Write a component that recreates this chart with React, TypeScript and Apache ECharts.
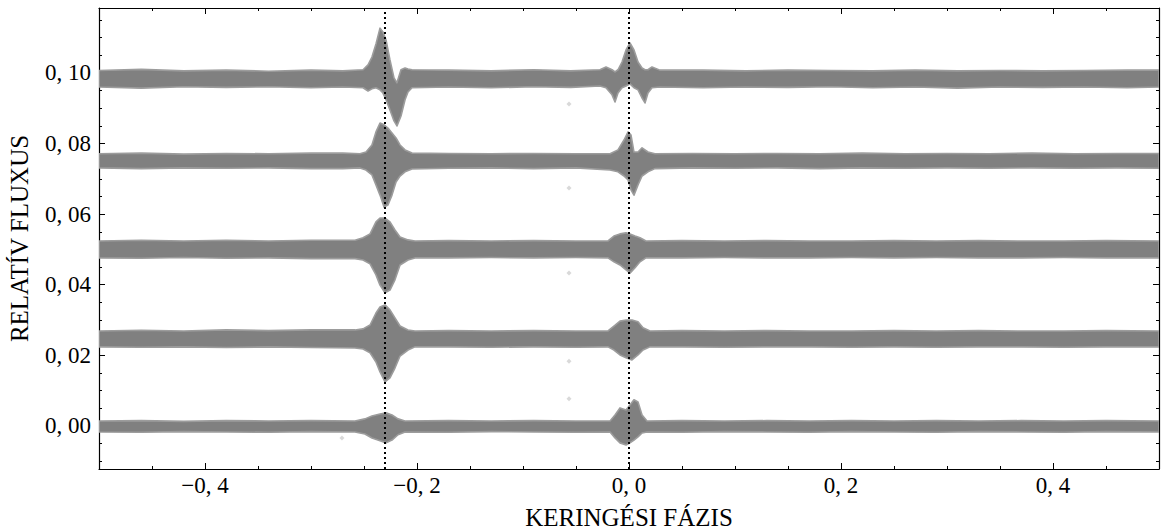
import React, { useEffect, useRef } from "react";
import * as echarts from "echarts";

// ---------- axis ticks ----------
const X_MAJOR = [-0.4, -0.2, 0, 0.2, 0.4];
const X_MINOR = [-0.45, -0.35, -0.3, -0.25, -0.15, -0.1, -0.05, 0.05, 0.1, 0.15, 0.25, 0.3, 0.35, 0.45];
const Y_MAJOR = [0, 0.02, 0.04, 0.06, 0.08, 0.1];
const Y_MINOR = [-0.01, -0.005, 0.005, 0.01, 0.015, 0.025, 0.03, 0.035, 0.045, 0.05, 0.055, 0.065, 0.07, 0.075, 0.085, 0.09, 0.095, 0.105, 0.11, 0.115];
const X_MIN = -0.5;
const X_MAX = 0.5;
const Y_MIN = -0.0122;
const Y_MAX = 0.1184;
const ECLIPSE_PHASES = [-0.23, 0];

// ---------- band 1 (top light curve) ----------
const B1_PHASE = [-0.5, -0.46, -0.42, -0.38, -0.34, -0.3, -0.27, -0.2509, -0.2462, -0.2425, -0.2387, -0.2349, -0.2321, -0.2292, -0.2255, -0.2217, -0.2189, -0.2151, -0.2113, -0.2085, -0.2047, -0.17, -0.13, -0.09, -0.055, -0.0274, -0.0217, -0.016, -0.0132, -0.0104, -0.0066, -0.0028, 0.0009, 0.0047, 0.0085, 0.0123, 0.0151, 0.0179, 0.0217, 0.0292, 0.07, 0.11, 0.15, 0.19, 0.23, 0.27, 0.31, 0.35, 0.39, 0.43, 0.47, 0.5];
const B1_UPPER = [0.1007, 0.101, 0.1006, 0.1008, 0.1005, 0.1008, 0.1006, 0.1009, 0.1023, 0.1045, 0.1082, 0.1127, 0.1116, 0.1093, 0.1037, 0.0986, 0.0972, 0.1009, 0.1014, 0.1011, 0.1009, 0.1008, 0.1006, 0.1009, 0.1006, 0.1009, 0.1017, 0.1009, 0.1003, 0.1009, 0.1031, 0.1065, 0.1085, 0.1065, 0.1031, 0.1014, 0.1009, 0.1009, 0.1017, 0.1008, 0.1008, 0.1006, 0.1008, 0.1007, 0.1006, 0.1008, 0.1006, 0.1007, 0.1006, 0.1007, 0.1008, 0.1008];
const B1_LOWER = [0.096, 0.0957, 0.0961, 0.0959, 0.0961, 0.0958, 0.096, 0.0958, 0.0949, 0.0955, 0.0958, 0.0952, 0.0943, 0.0924, 0.0895, 0.0864, 0.085, 0.0878, 0.0924, 0.0946, 0.0958, 0.096, 0.0958, 0.0961, 0.0959, 0.0963, 0.0958, 0.0938, 0.0918, 0.0943, 0.0958, 0.0963, 0.0969, 0.0958, 0.0952, 0.0929, 0.0915, 0.0943, 0.0958, 0.096, 0.0958, 0.096, 0.0959, 0.0961, 0.0958, 0.096, 0.0957, 0.096, 0.0959, 0.096, 0.0958, 0.096];

// ---------- band 2 ----------
const B2_PHASE = [-0.5, -0.46, -0.42, -0.38, -0.34, -0.3, -0.27, -0.2538, -0.2481, -0.2425, -0.2387, -0.2349, -0.2311, -0.2274, -0.2236, -0.2198, -0.216, -0.2113, -0.2047, -0.17, -0.13, -0.09, -0.05, -0.0179, -0.0104, -0.0047, -0.0009, 0.0019, 0.0047, 0.0085, 0.0123, 0.0179, 0.0245, 0.06, 0.1, 0.14, 0.18, 0.22, 0.26, 0.3, 0.34, 0.38, 0.42, 0.46, 0.5];
const B2_UPPER = [0.0771, 0.0773, 0.077, 0.0772, 0.0771, 0.0773, 0.0773, 0.0771, 0.0776, 0.0796, 0.0833, 0.0858, 0.0853, 0.0844, 0.083, 0.0816, 0.0796, 0.0782, 0.0773, 0.0772, 0.0771, 0.0772, 0.0771, 0.0771, 0.0782, 0.081, 0.0833, 0.0824, 0.0776, 0.0776, 0.0788, 0.0776, 0.0771, 0.0772, 0.0771, 0.0772, 0.0771, 0.0773, 0.0771, 0.0772, 0.0771, 0.0773, 0.0771, 0.0772, 0.0772];
const B2_LOWER = [0.0731, 0.0729, 0.0731, 0.073, 0.0731, 0.0729, 0.0729, 0.0731, 0.0725, 0.0711, 0.0683, 0.0654, 0.062, 0.0626, 0.0654, 0.0691, 0.0708, 0.072, 0.0728, 0.073, 0.0731, 0.0729, 0.0731, 0.0725, 0.072, 0.0708, 0.0697, 0.0669, 0.0654, 0.0683, 0.0708, 0.072, 0.0729, 0.0731, 0.073, 0.0731, 0.0729, 0.0731, 0.073, 0.0731, 0.073, 0.0731, 0.073, 0.0731, 0.073];

// ---------- band 3 ----------
const B3_PHASE = [-0.5, -0.46, -0.42, -0.38, -0.34, -0.3, -0.2585, -0.2509, -0.2443, -0.2387, -0.2349, -0.2302, -0.2255, -0.2208, -0.216, -0.2085, -0.2019, -0.17, -0.13, -0.09, -0.05, -0.0198, -0.0142, -0.0085, -0.0028, 0.0009, 0.0057, 0.0104, 0.016, 0.05, 0.09, 0.13, 0.17, 0.21, 0.25, 0.29, 0.33, 0.37, 0.41, 0.45, 0.5];
const B3_UPPER = [0.0524, 0.0526, 0.0524, 0.0526, 0.0524, 0.0526, 0.0526, 0.0533, 0.0544, 0.0578, 0.0589, 0.0589, 0.0578, 0.0555, 0.0535, 0.0527, 0.0524, 0.0525, 0.0524, 0.0525, 0.0524, 0.0524, 0.0538, 0.0544, 0.0547, 0.0544, 0.0538, 0.0533, 0.0524, 0.0525, 0.0524, 0.0525, 0.0524, 0.0524, 0.0525, 0.0524, 0.0525, 0.0524, 0.0524, 0.0525, 0.0524];
const B3_LOWER = [0.0476, 0.0475, 0.0477, 0.0475, 0.0476, 0.0474, 0.0474, 0.047, 0.0459, 0.0428, 0.0399, 0.0377, 0.0385, 0.0414, 0.0456, 0.047, 0.0476, 0.0476, 0.0477, 0.0476, 0.0477, 0.0476, 0.0465, 0.0456, 0.0442, 0.0433, 0.0448, 0.0465, 0.0476, 0.0476, 0.0477, 0.0476, 0.0476, 0.0477, 0.0476, 0.0477, 0.0476, 0.0476, 0.0477, 0.0476, 0.0476];

// ---------- band 4 ----------
const B4_PHASE = [-0.5, -0.46, -0.42, -0.38, -0.34, -0.3, -0.2585, -0.2509, -0.2443, -0.2387, -0.2349, -0.2302, -0.2255, -0.2208, -0.216, -0.2085, -0.2019, -0.17, -0.13, -0.09, -0.05, -0.0198, -0.0142, -0.0085, -0.0028, 0.0028, 0.0085, 0.0132, 0.0198, 0.05, 0.09, 0.13, 0.17, 0.21, 0.25, 0.29, 0.33, 0.37, 0.41, 0.45, 0.5];
const B4_UPPER = [0.0269, 0.0271, 0.0269, 0.0272, 0.027, 0.0272, 0.0272, 0.0275, 0.0286, 0.032, 0.0337, 0.0343, 0.0329, 0.0306, 0.0283, 0.0272, 0.0269, 0.027, 0.0269, 0.027, 0.0269, 0.0269, 0.0283, 0.0297, 0.03, 0.03, 0.0295, 0.0278, 0.0269, 0.027, 0.0269, 0.027, 0.0269, 0.0269, 0.027, 0.0269, 0.027, 0.0269, 0.0269, 0.027, 0.0269];
const B4_LOWER = [0.0224, 0.0223, 0.0224, 0.0222, 0.0224, 0.0222, 0.0221, 0.0218, 0.0207, 0.0181, 0.0153, 0.0125, 0.0136, 0.0164, 0.0198, 0.0215, 0.0224, 0.0224, 0.0223, 0.0224, 0.0223, 0.0224, 0.0215, 0.0201, 0.0193, 0.0187, 0.0201, 0.0215, 0.0224, 0.0224, 0.0223, 0.0224, 0.0224, 0.0223, 0.0224, 0.0223, 0.0224, 0.0224, 0.0223, 0.0224, 0.0224];

// ---------- band 5 (bottom) ----------
const B5_PHASE = [-0.5, -0.46, -0.42, -0.38, -0.34, -0.3, -0.2585, -0.2491, -0.2425, -0.2349, -0.2292, -0.2236, -0.2179, -0.2113, -0.17, -0.13, -0.09, -0.05, -0.0179, -0.0132, -0.0085, -0.0028, 0.0009, 0.0047, 0.0085, 0.0123, 0.017, 0.05, 0.09, 0.13, 0.17, 0.21, 0.25, 0.29, 0.33, 0.37, 0.41, 0.45, 0.5];
const B5_UPPER = [0.0014, 0.0015, 0.0013, 0.0015, 0.0014, 0.0015, 0.0014, 0.002, 0.0028, 0.0034, 0.0037, 0.0031, 0.002, 0.0014, 0.0015, 0.0014, 0.0015, 0.0014, 0.0014, 0.0031, 0.0051, 0.0045, 0.0059, 0.0074, 0.0068, 0.0031, 0.0014, 0.0015, 0.0014, 0.0015, 0.0014, 0.0015, 0.0014, 0.0015, 0.0014, 0.0015, 0.0014, 0.0015, 0.0014];
const B5_LOWER = [-0.0017, -0.0018, -0.0016, -0.0017, -0.0018, -0.0016, -0.0017, -0.0023, -0.0034, -0.0042, -0.0048, -0.004, -0.0025, -0.0017, -0.0018, -0.0016, -0.0017, -0.0018, -0.0017, -0.0034, -0.0048, -0.0054, -0.0048, -0.004, -0.0031, -0.002, -0.0017, -0.0018, -0.0016, -0.0017, -0.0018, -0.0016, -0.0017, -0.0018, -0.0016, -0.0017, -0.0018, -0.0016, -0.0017];

// ---------- isolated outliers ----------
const OUTLIER_PHASE = [-0.0566, -0.0566, -0.0566, -0.0566, -0.0566, -0.2708];
const OUTLIER_FLUX = [0.0912, 0.0674, 0.0433, 0.0183, 0.0077, -0.0034];

const BANDS = [
  { phase: B1_PHASE, upper: B1_UPPER, lower: B1_LOWER },
  { phase: B2_PHASE, upper: B2_UPPER, lower: B2_LOWER },
  { phase: B3_PHASE, upper: B3_UPPER, lower: B3_LOWER },
  { phase: B4_PHASE, upper: B4_UPPER, lower: B4_LOWER },
  { phase: B5_PHASE, upper: B5_UPPER, lower: B5_LOWER },
];

const FONT = "'Liberation Serif', 'DejaVu Serif', serif";

function fmt(v: number, d: number): string {
  const s = Math.abs(v).toFixed(d).replace(".", ", ");
  return (v < -1e-9 ? "\u2212" : "") + s;
}

export default function App() {
  const ref = useRef<HTMLDivElement>(null);
  useEffect(() => {
    if (!ref.current) return;
    const chart = echarts.init(ref.current, null, { renderer: "svg" });

    const tickAxis = (
      pos: string,
      vals: number[],
      len: number,
      line: boolean,
      labels: boolean,
      isX: boolean
    ) => ({
      type: "value",
      gridIndex: 0,
      position: pos,
      min: isX ? X_MIN : Y_MIN,
      max: isX ? X_MAX : Y_MAX,
      axisLine: { show: line, onZero: false, lineStyle: { color: "#000", width: 1.2 } },
      axisTick: {
        show: true,
        inside: true,
        length: len,
        customValues: vals,
        lineStyle: { color: "#000", width: 1 },
      },
      axisLabel: labels
        ? {
            show: true,
            customValues: vals,
            formatter: (v: number) => fmt(v, isX ? 1 : 2),
            fontFamily: FONT,
            fontSize: 23,
            color: "#000",
            margin: isX ? 5 : 8,
          }
        : { show: false },
      splitLine: { show: false },
      minorTick: { show: false },
    });

    const xAxes: any[] = [
      {
        ...tickAxis("bottom", X_MAJOR, 6, true, true, true),
        name: "KERINGÉSI FÁZIS",
        nameLocation: "middle",
        nameGap: 36,
        nameTextStyle: { fontFamily: FONT, fontSize: 25, color: "#000" },
      },
      tickAxis("bottom", X_MINOR, 3, false, false, true),
      tickAxis("top", X_MAJOR, 6, true, false, true),
      tickAxis("top", X_MINOR, 3, false, false, true),
    ];
    const yAxes: any[] = [
      {
        ...tickAxis("left", Y_MAJOR, 6, true, true, false),
        name: "RELATÍV FLUXUS",
        nameLocation: "middle",
        nameGap: 67,
        nameRotate: 90,
        nameTextStyle: { fontFamily: FONT, fontSize: 25, color: "#000" },
      },
      tickAxis("left", Y_MINOR, 3, false, false, false),
      tickAxis("right", Y_MAJOR, 6, true, false, false),
      tickAxis("right", Y_MINOR, 3, false, false, false),
    ];

    const bandRender = (params: any, api: any) => {
      if (params.dataIndexInside !== 0) return null;
      const n = params.dataInsideLength;
      const top: number[][] = [];
      const bot: number[][] = [];
      for (let i = 0; i < n; i++) {
        const x = api.value(0, i);
        bot.push(api.coord([x, api.value(1, i)]));
        top.push(api.coord([x, api.value(2, i)]));
      }
      const points = top.concat(bot.reverse());
      return {
        type: "polygon",
        shape: { points },
        style: { fill: "#808080", stroke: "#9c9c9c", lineWidth: 1.6, lineJoin: "round" },
      };
    };

    const series: any[] = BANDS.map((b) => ({
      type: "custom",
      xAxisIndex: 0,
      yAxisIndex: 0,
      silent: true,
      clip: true,
      z: 2,
      renderItem: bandRender,
      encode: { x: 0, y: [1, 2] },
      data: b.phase.map((p, j) => [p, b.lower[j], b.upper[j]]),
    }));
    series.push({
      type: "scatter",
      xAxisIndex: 0,
      yAxisIndex: 0,
      symbol: "diamond",
      symbolSize: 5,
      silent: true,
      z: 5,
      itemStyle: { color: "#cfcfcf" },
      data: OUTLIER_PHASE.map((p, j) => [p, OUTLIER_FLUX[j]]),
      markLine: {
        silent: true,
        symbol: ["none", "none"],
        label: { show: false },
        lineStyle: { color: "#000", type: [2, 3], width: 2 },
        data: ECLIPSE_PHASES.map((p) => ({ xAxis: p })),
      },
    });

    chart.setOption({
      animation: false,
      backgroundColor: "#fff",
      grid: { left: 99, right: 2, top: 8, bottom: 63, containLabel: false, outerBoundsMode: "none" },
      xAxis: xAxes,
      yAxis: yAxes,
      series,
    });
    return () => chart.dispose();
  }, []);

  return (
    <div
      ref={ref}
      style={{ position: "fixed", left: 0, top: 0, width: 1161, height: 532, background: "#fff" }}
    />
  );
}
